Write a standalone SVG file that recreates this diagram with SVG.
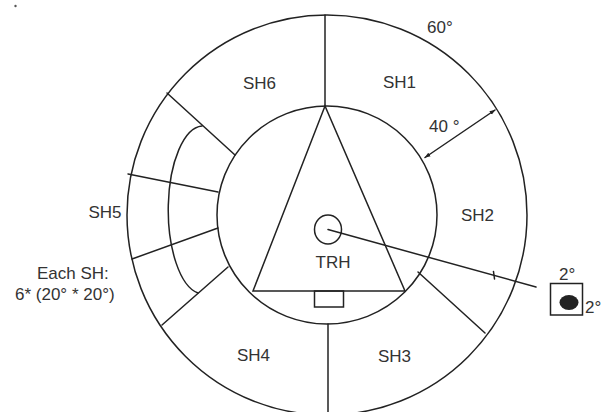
<svg xmlns="http://www.w3.org/2000/svg" width="609" height="412" viewBox="0 0 609 412">
<defs>
<style>
.ln{fill:none;stroke:#222;stroke-width:1.5;stroke-linecap:round}
.tx{font-family:"Liberation Sans",Arial,sans-serif;font-size:17px;fill:#333}
</style>
<marker id="ah" viewBox="0 0 10 10" refX="9" refY="5" markerWidth="6" markerHeight="6" orient="auto-start-reverse" markerUnits="userSpaceOnUse">
<path d="M0,1.5 L10,5 L0,8.5 Z" fill="#222"/>
</marker>
</defs>
<rect width="609" height="412" fill="#fff"/>
<circle cx="15.5" cy="6" r="1.2" fill="#555"/>
<g id="outer-ring">
<circle class="ln" cx="327" cy="215" r="200"/>
</g>
<g id="inner-circle">
<ellipse class="ln" cx="327" cy="215" rx="110" ry="109"/>
</g>
<g id="triangle">
<path class="ln" d="M325,106 L253,291 L405,291 Z"/>
<rect class="ln" x="314.5" y="291" width="29" height="16"/>
</g>
<g id="TRH">
<ellipse class="ln" cx="328" cy="229.5" rx="13.5" ry="14.5"/>
<text class="tx" x="315.5" y="268">TRH</text>
</g>
<g id="SH1"><text class="tx" x="383" y="88">SH1</text></g>
<g id="SH2"><text class="tx" x="461" y="221">SH2</text></g>
<g id="SH3"><text class="tx" x="378" y="362">SH3</text></g>
<g id="SH4"><text class="tx" x="237" y="361">SH4</text></g>
<g id="SH5"><text class="tx" x="88.5" y="218">SH5</text></g>
<g id="SH6"><text class="tx" x="243" y="89">SH6</text></g>
<g id="target">
<rect class="ln" x="550.5" y="283.5" width="32" height="31.5"/>
<ellipse cx="569" cy="302.5" rx="9.5" ry="7.5" fill="#222"/>
<text class="tx" x="559" y="280">2°</text>
<text class="tx" x="585" y="313">2°</text>
</g>
<g id="labels">
<text class="tx" x="427" y="33">60°</text>
<text class="tx" x="429" y="132">40 °</text>
<text class="tx" x="37" y="279">Each SH:</text>
<text class="tx" x="15" y="300">6* (20° * 20°)</text>
</g>
<g id="connectors">
<line class="ln" x1="325" y1="15" x2="325" y2="106"/>
<line class="ln" x1="328" y1="324" x2="328" y2="412"/>
<line class="ln" x1="167" y1="93" x2="235" y2="155"/>
<line class="ln" x1="128" y1="174" x2="218" y2="192"/>
<line class="ln" x1="132" y1="259" x2="218" y2="228"/>
<line class="ln" x1="162" y1="325" x2="228" y2="267"/>
<line class="ln" x1="418" y1="272" x2="485" y2="333"/>
<path class="ln" d="M202,126 A35 84 0 0 0 198,293"/>
<line class="ln" x1="425" y1="157.5" x2="495" y2="110" marker-start="url(#ah)" marker-end="url(#ah)"/>
<line class="ln" x1="328" y1="229.5" x2="536" y2="287"/>
<line class="ln" x1="493.5" y1="271.5" x2="494.5" y2="279"/>
</g>
</svg>
